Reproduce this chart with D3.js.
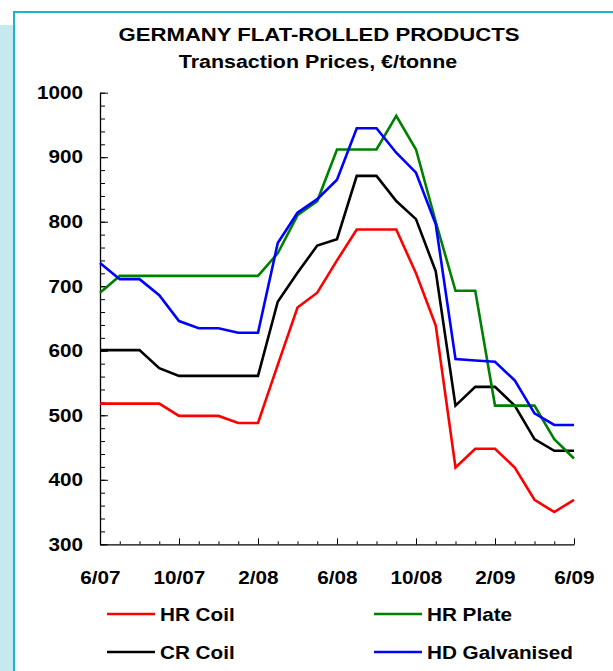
<!DOCTYPE html>
<html><head><meta charset="utf-8">
<script src="https://cdn.jsdelivr.net/npm/d3@7"></script>
<style>
html,body{margin:0;padding:0;background:#fff;}
svg{display:block;font-family:"Liberation Sans",Arial,sans-serif;}
</style></head>
<body>
<svg id="c" width="613" height="671"></svg>
<script>
// month index 0 = 6/07 ... 24 = 6/09
const months = d3.range(0, 25);
const tickLabels = ["6/07","10/07","2/08","6/08","10/08","2/09","6/09"];
const hrCoil   = [518,518,518,518,499,499,499,488,488,578,667,690,740,788,788,788,720,639,419,448,448,419,369,350,369];
const crCoil   = [601,601,601,573,561,561,561,561,561,676,721,763,773,871,871,832,804,723,515,544,544,515,463,445,445];
const hrPlate  = [690,716,716,716,716,716,716,716,716,751,810,832,912,912,912,964,912,800,693,693,515,515,515,463,433];
const hdGalv   = [736,711,711,686,646,635,635,628,628,767,814,835,865,945,945,907,876,796,587,585,583,554,503,485,485];
const seriesNames = ["HR Coil","HR Plate","CR Coil","HD Galvanised"];
const seriesColors = ["#ff0000","#008000","#000000","#0000ff"];
const seriesData = [hrCoil, hrPlate, crCoil, hdGalv];

const SX = 1.15; // horizontal glyph stretch seen in the reference
const svg = d3.select("#c");

// background frame
svg.append("rect").attr("x",0).attr("y",25).attr("width",14).attr("height",646).attr("fill","#c6e8ef");
svg.append("rect").attr("x",14).attr("y",12).attr("width",620).attr("height",680)
  .attr("fill","#fff").attr("stroke","#1cb3cf").attr("stroke-width",2);

const x = d3.scaleLinear().domain([0,24]).range([100,574]);
const y = d3.scaleLinear().domain([300,1000]).range([544.3,92.7]);

// titles
svg.append("text").attr("transform","translate(319,41) scale(1.165,1)").attr("text-anchor","middle")
  .attr("font-size",19).attr("font-weight","bold").text("GERMANY FLAT-ROLLED PRODUCTS");
svg.append("text").attr("transform","translate(318,68) scale(1.19,1)").attr("text-anchor","middle")
  .attr("font-size",18).attr("font-weight","bold").text("Transaction Prices, €/tonne");

const fontTick = g=>g.selectAll("text").attr("font-size",18).attr("font-weight","bold").attr("fill","#000")
        .attr("font-family","Liberation Sans, Arial, sans-serif");

// y axis minor
svg.append("g").attr("transform","translate(100,0)")
  .call(d3.axisLeft(y).tickValues(d3.range(300,1001,20)).tickSizeInner(-5).tickSizeOuter(0).tickFormat(""))
  .call(g=>g.select(".domain").attr("stroke","#000").attr("stroke-width",1.3));
// y axis major
svg.append("g").attr("transform","translate(100,0)")
  .call(d3.axisLeft(y).tickValues(d3.range(300,1001,100)).tickSizeInner(-8).tickSizeOuter(0).tickPadding(17)
        .tickFormat(d3.format("d")))
  .call(g=>g.select(".domain").remove())
  .call(fontTick)
  .call(g=>g.selectAll("text").attr("x",-17/SX).attr("transform",`scale(${SX},1)`));

// x axis minor
svg.append("g").attr("transform","translate(0,544.3)")
  .call(d3.axisBottom(x).tickValues(months).tickSizeInner(-3).tickSizeOuter(0).tickFormat(""))
  .call(g=>g.select(".domain").attr("stroke","#000").attr("stroke-width",1.3));
// x axis major
svg.append("g").attr("transform","translate(0,544.3)")
  .call(d3.axisBottom(x).tickValues(d3.range(0,25,4)).tickSizeInner(-6).tickSizeOuter(0).tickPadding(27)
        .tickFormat((d,i)=>tickLabels[i]))
  .call(g=>g.select(".domain").remove())
  .call(fontTick)
  .call(g=>g.selectAll("text").attr("transform",`scale(${SX},1)`));

// lines
const line = d3.line().x((d,i)=>x(months[i])).y(d=>y(d));
const drawOrder = [0,2,1,3];
drawOrder.forEach(k=>{
  svg.append("path").datum(seriesData[k]).attr("d",line)
    .attr("fill","none").attr("stroke",seriesColors[k]).attr("stroke-width",2.6)
    .attr("stroke-linejoin","miter");
});

// legend
const legPos = [[107,614],[374,614],[107,652],[374,652]];
seriesNames.forEach((n,i)=>{
  const [lx,ly] = legPos[i];
  svg.append("line").attr("x1",lx).attr("x2",lx+48).attr("y1",ly).attr("y2",ly)
    .attr("stroke",seriesColors[i]).attr("stroke-width",2.5);
  svg.append("text").attr("transform",`translate(${lx+53},${ly+7}) scale(${SX},1)`)
    .attr("font-size",18).attr("font-weight","bold").text(n);
});
</script>
</body></html>
